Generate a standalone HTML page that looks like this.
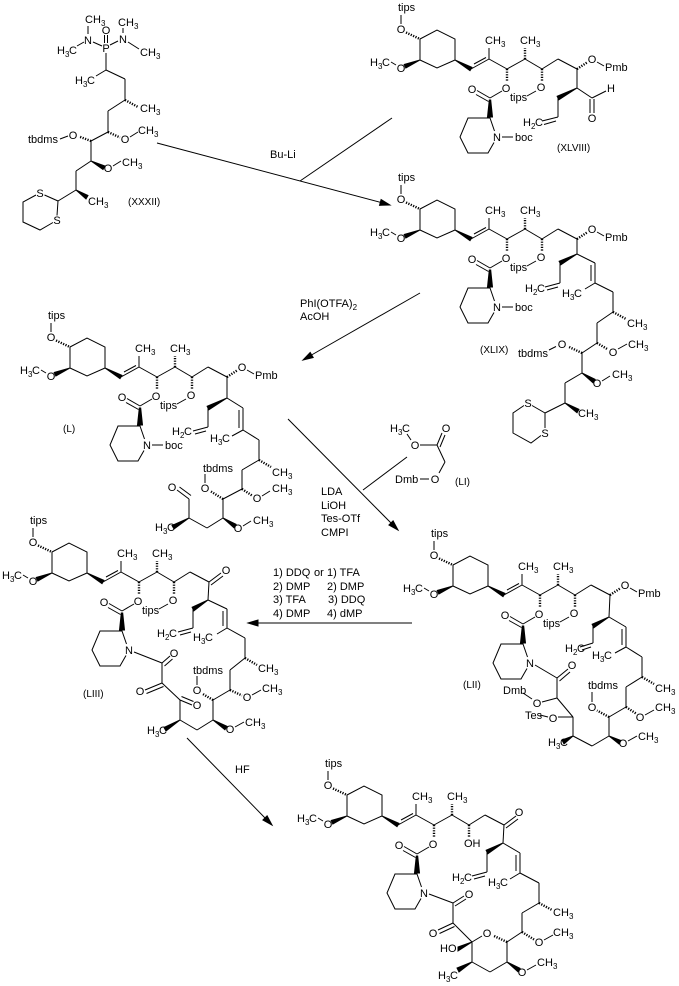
<!DOCTYPE html>
<html><head><meta charset="utf-8">
<style>
html,body{margin:0;padding:0;background:#fff;}
svg{display:block;}
svg line,svg polyline,svg polygon{stroke:#000;stroke-width:1;fill:none;}
svg .w{fill:#000;}
svg .h{stroke-dasharray:1.2 1.4;stroke-width:2.4;}
text{font-family:"Liberation Sans",sans-serif;font-size:11px;fill:#000;}
text.a{text-anchor:middle;}
text.s{font-size:8px;}
tspan.s{font-size:8px;}
text.c{font-size:10px;}
</style></head><body>
<svg width="679" height="986" viewBox="0 0 679 986" xmlns="http://www.w3.org/2000/svg">
<rect x="0" y="0" width="679" height="986" fill="#fff"/>
<defs>
<g id="hb">
<line x1="401" y1="15" x2="401" y2="24"/>
<line class="h" x1="406" y1="32.5" x2="420" y2="39"/>
<polygon points="420,39 437,30 455,39 455,60 437,68 420,60"/>
<polygon class="w" points="420,60 405.8,68.1 404.2,64.5"/>
<line x1="391" y1="62" x2="396" y2="65"/>
<polygon class="w" points="455,60 470,70.7 472,67.3"/>
<line x1="471" y1="69" x2="489" y2="59"/>
<line x1="474" y1="64" x2="486" y2="57.5"/>
<line x1="489" y1="59" x2="489" y2="48"/>
<line x1="489" y1="59" x2="507" y2="69"/>
<line class="h" x1="507" y1="69" x2="507" y2="82"/>
<line x1="507" y1="69" x2="525" y2="59"/>
<line class="h" x1="525" y1="59" x2="525" y2="48"/>
<line x1="525" y1="59" x2="542" y2="69"/>
<line class="h" x1="542" y1="69" x2="542" y2="81"/>
<line x1="542" y1="69" x2="558" y2="59"/>
<line x1="558" y1="59" x2="577" y2="69"/>
<line x1="502" y1="91" x2="490" y2="98"/>
<line x1="490" y1="98" x2="477" y2="90.5"/>
<line x1="488.5" y1="101.5" x2="476" y2="94.5"/>
<polygon class="w" points="489.3,100 490.7,100 492.5,117 487.5,117"/>
<polyline points="494.5,131 490,118 468,118 460,137 468,153 488,153 494,142.5"/>
</g>
</defs>

<!-- ============ XXXII ============ -->
<g>
<line x1="88" y1="26" x2="88" y2="34"/>
<line x1="77" y1="46" x2="84" y2="42"/>
<line x1="93" y1="42" x2="102" y2="46"/>
<line x1="104.5" y1="35" x2="104.5" y2="43"/>
<line x1="107.5" y1="35" x2="107.5" y2="43"/>
<line x1="110" y1="45" x2="118" y2="41"/>
<line x1="123" y1="28" x2="123" y2="33"/>
<line x1="128" y1="42" x2="139" y2="49"/>
<line x1="106" y1="53" x2="106" y2="70"/>
<line x1="106" y1="70" x2="96" y2="76"/>
<line x1="106" y1="70" x2="125" y2="79"/>
<line x1="125" y1="79" x2="125" y2="100"/>
<line class="h" x1="125" y1="100" x2="138" y2="107"/>
<line x1="125" y1="100" x2="108" y2="111"/>
<line x1="108" y1="111" x2="108" y2="132"/>
<line class="h" x1="108" y1="132" x2="120" y2="137.5"/>
<line x1="130" y1="137" x2="138" y2="132"/>
<line x1="108" y1="132" x2="91" y2="141"/>
<line class="h" x1="91" y1="141" x2="79" y2="136.5"/>
<line x1="60" y1="139" x2="68" y2="136"/>
<line x1="91" y1="141" x2="91" y2="161"/>
<polygon class="w" points="91,161 103,169.5 105,166"/>
<line x1="113" y1="166" x2="121" y2="161"/>
<line x1="91" y1="161" x2="76" y2="171"/>
<line x1="76" y1="171" x2="76" y2="190"/>
<polygon class="w" points="76,190 86,199 88,195.5"/>
<line x1="76" y1="190" x2="58" y2="201"/>
<polyline points="36,195 23,202 23,222 40,230 53,222.5"/>
<polyline points="57,215.5 58,201 44.5,195"/>
<text x="85" y="23">CH</text><text class="s" x="101" y="26">3</text>
<text class="a" x="88" y="44">N</text>
<text x="57" y="54">H</text><text class="s" x="65" y="57">3</text><text x="69" y="54">C</text>
<text class="a" x="106" y="52">P</text>
<text class="a" x="106" y="34">O</text>
<text class="a" x="123" y="43">N</text>
<text x="118" y="26">CH</text><text class="s" x="134" y="29">3</text>
<text x="140" y="56">CH</text><text class="s" x="156" y="59">3</text>
<text x="75" y="84">H</text><text class="s" x="83" y="87">3</text><text x="87" y="84">C</text>
<text x="140" y="112">CH</text><text class="s" x="156" y="115">3</text>
<text class="a" x="125" y="143">O</text>
<text x="138" y="134">CH</text><text class="s" x="154" y="137">3</text>
<text class="a" x="73" y="139">O</text>
<text x="28" y="143">tbdms</text>
<text class="a" x="108" y="172">O</text>
<text x="122" y="166">CH</text><text class="s" x="138" y="169">3</text>
<text x="88" y="205">CH</text><text class="s" x="104" y="208">3</text>
<text class="a" x="40" y="197">S</text>
<text class="a" x="57" y="224">S</text>
<text class="c" x="128" y="205">(XXXII)</text>
</g>

<!-- ============ Arrows & reagents ============ -->
<g>
<line x1="157" y1="143" x2="383" y2="203"/>
<polygon class="w" points="390,205 379.5,205.3 381.1,199.5"/>
<line x1="300" y1="181" x2="392" y2="118"/>
<text x="270" y="158">Bu-Li</text>

<line x1="420" y1="293" x2="308" y2="357"/>
<polygon class="w" points="303,360 313.2,357.6 310.2,352.4"/>
<text x="300" y="307">PhI(OTFA)<tspan class="s" dy="3">2</tspan></text>
<text x="300" y="320">AcOH</text>

<line x1="288" y1="419" x2="393" y2="525"/>
<polygon class="w" points="398,530 388.9,525 393.1,520.8"/>
<line x1="363" y1="490" x2="407" y2="457"/>
<text x="321" y="495">LDA</text>
<text x="321" y="509">LiOH</text>
<text x="321" y="522">Tes-OTf</text>
<text x="321" y="536">CMPI</text>

<line x1="412" y1="623" x2="255" y2="623"/>
<polygon class="w" points="248,623 258,620 258,626"/>
<text x="273" y="576">1) DDQ</text><text x="314" y="576">or</text><text x="327" y="576">1) TFA</text>
<text x="273" y="590">2) DMP</text><text x="327" y="590">2) DMP</text>
<text x="273" y="603">3) TFA</text><text x="328" y="603">3) DDQ</text>
<text x="273" y="617">4) DMP</text><text x="327" y="617">4) dMP</text>

<line x1="187" y1="738" x2="267" y2="820"/>
<polygon class="w" points="272,825 262.9,820 267.1,815.8"/>
<text x="235" y="773">HF</text>
</g>

<!-- ============ LI ============ -->
<g>
<line x1="407" y1="434" x2="411" y2="440"/>
<line x1="420" y1="445" x2="437" y2="445"/>
<line x1="437" y1="445" x2="442" y2="433"/>
<line x1="440" y1="447" x2="445" y2="435"/>
<line x1="437" y1="445" x2="445" y2="462"/>
<line x1="445" y1="462" x2="439" y2="473"/>
<line x1="420" y1="479" x2="429" y2="479"/>
<text x="390" y="432">H</text><text class="s" x="398" y="435">3</text><text x="402" y="432">C</text>
<text class="a" x="415" y="449">O</text>
<text class="a" x="446" y="432">O</text>
<text class="a" x="435" y="483">O</text>
<text x="395" y="483">Dmb</text>
<text class="c" x="455" y="485">(LI)</text>
</g>

<!-- ============ XLVIII ============ -->
<g>
<use href="#hb"/>
<text x="398" y="11">tips</text>
<text class="a" x="401" y="33">O</text>
<text class="a" x="401" y="72">O</text>
<text x="370" y="66">H</text><text class="s" x="378" y="69">3</text><text x="382" y="66">C</text>
<text x="485" y="44">CH</text><text class="s" x="501" y="47">3</text>
<text x="520" y="44">CH</text><text class="s" x="536" y="47">3</text>
<text class="a" x="506" y="92">O</text>
<text class="a" x="541" y="91">O</text>
<text class="a" x="472" y="93">O</text>
<text class="a" x="497" y="141">N</text>
<line x1="527" y1="96" x2="536" y2="91"/><text x="510" y="101">tips</text>
<line x1="502" y1="137" x2="513" y2="137"/><text x="515" y="141">boc</text>
<line class="h" x1="577" y1="69" x2="587" y2="62.5"/><line x1="597" y1="62" x2="604" y2="66"/>
<text class="a" x="592" y="63">O</text><text x="605" y="71">Pmb</text>
<line x1="577" y1="69" x2="577" y2="88"/>
<polygon class="w" points="577,88 558.9,99.8 557.1,96.2"/>
<line x1="558" y1="98" x2="558" y2="117"/>
<line x1="558" y1="117" x2="542" y2="121"/>
<line x1="556" y1="121" x2="544" y2="124.5"/>
<text x="523" y="126">H</text><text class="s" x="531" y="129">2</text><text x="535" y="126">C</text>
<line x1="577" y1="88" x2="592" y2="98"/>
<line x1="592" y1="98" x2="606" y2="91"/>
<line x1="590" y1="99" x2="590" y2="113"/>
<line x1="594" y1="99" x2="594" y2="113"/>
<text class="a" x="611" y="92">H</text>
<text class="a" x="592" y="122">O</text>
<text class="c" x="557" y="151">(XLVIII)</text>
</g>

<!-- ============ XLIX ============ -->
<g transform="translate(0,170)">
<use href="#hb"/>
<text x="398" y="11">tips</text>
<text class="a" x="401" y="33">O</text>
<text class="a" x="401" y="72">O</text>
<text x="370" y="66">H</text><text class="s" x="378" y="69">3</text><text x="382" y="66">C</text>
<text x="485" y="44">CH</text><text class="s" x="501" y="47">3</text>
<text x="520" y="44">CH</text><text class="s" x="536" y="47">3</text>
<text class="a" x="506" y="92">O</text>
<text class="a" x="541" y="91">O</text>
<text class="a" x="472" y="93">O</text>
<text class="a" x="497" y="141">N</text>
<line x1="527" y1="96" x2="536" y2="91"/><text x="510" y="101">tips</text>
<line x1="502" y1="137" x2="513" y2="137"/><text x="515" y="141">boc</text>
<line class="h" x1="577" y1="69" x2="587" y2="62.5"/><line x1="597" y1="62" x2="604" y2="66"/>
<text class="a" x="592" y="63">O</text><text x="605" y="71">Pmb</text>
</g>
<g>
<line x1="577" y1="239" x2="577" y2="254"/>
<polygon class="w" points="577,254 560.9,264.8 559.1,261.2"/>
<line x1="560" y1="263" x2="560" y2="283"/>
<line x1="560" y1="283" x2="545" y2="287"/>
<line x1="558" y1="287" x2="547" y2="290"/>
<text x="525" y="292">H</text><text class="s" x="533" y="295">2</text><text x="537" y="292">C</text>
<line x1="577" y1="254" x2="595" y2="263"/>
<line x1="595" y1="263" x2="595" y2="283"/>
<line x1="591" y1="265" x2="591" y2="281"/>
<line x1="595" y1="283" x2="585" y2="289"/>
<text x="562" y="297">H</text><text class="s" x="570" y="300">3</text><text x="574" y="297">C</text>
<line x1="595" y1="283" x2="613" y2="292"/>
<line x1="613" y1="292" x2="613" y2="312"/>
<line class="h" x1="613" y1="312" x2="626" y2="319"/>
<text x="627" y="327">CH</text><text class="s" x="643" y="330">3</text>
<line x1="613" y1="312" x2="597" y2="323"/>
<line x1="597" y1="323" x2="597" y2="343"/>
<line class="h" x1="597" y1="343" x2="608" y2="349.5"/>
<text class="a" x="613" y="356">O</text>
<line x1="618" y1="349" x2="627" y2="344"/>
<text x="628" y="348">CH</text><text class="s" x="644" y="351">3</text>
<line x1="597" y1="343" x2="582" y2="353"/>
<line class="h" x1="582" y1="353" x2="568" y2="346.5"/>
<text class="a" x="562" y="348">O</text>
<line x1="549" y1="350" x2="556" y2="346.5"/>
<text x="518" y="357">tbdms</text>
<line x1="582" y1="353" x2="582" y2="373"/>
<polygon class="w" points="582,373 592.9,382.7 595.1,379.3"/>
<text class="a" x="597" y="387">O</text>
<line x1="602" y1="381" x2="610" y2="376"/>
<text x="612" y="378">CH</text><text class="s" x="628" y="381">3</text>
<line x1="582" y1="373" x2="565" y2="383"/>
<line x1="565" y1="383" x2="565" y2="403"/>
<polygon class="w" points="565,403 577,412.7 579,409.3"/>
<text x="578" y="417">CH</text><text class="s" x="594" y="420">3</text>
<line x1="565" y1="403" x2="545" y2="413"/>
<polyline points="524,405.5 513,413 513,433 531,443 541,435.5"/>
<polyline points="545,428 545,413 532,405.5"/>
<text class="a" x="528" y="407">S</text>
<text class="a" x="545" y="437">S</text>
<text class="c" x="480" y="353">(XLIX)</text>
</g>

<!-- ============ L ============ -->
<g transform="translate(-350,308)">
<use href="#hb"/>
<text x="398" y="11">tips</text>
<text class="a" x="401" y="33">O</text>
<text class="a" x="401" y="72">O</text>
<text x="370" y="66">H</text><text class="s" x="378" y="69">3</text><text x="382" y="66">C</text>
<text x="485" y="44">CH</text><text class="s" x="501" y="47">3</text>
<text x="520" y="44">CH</text><text class="s" x="536" y="47">3</text>
<text class="a" x="506" y="92">O</text>
<text class="a" x="541" y="91">O</text>
<text class="a" x="472" y="93">O</text>
<text class="a" x="497" y="141">N</text>
<line x1="527" y1="96" x2="536" y2="91"/><text x="510" y="101">tips</text>
<line x1="502" y1="137" x2="513" y2="137"/><text x="515" y="141">boc</text>
<line class="h" x1="577" y1="69" x2="587" y2="62.5"/><line x1="597" y1="62" x2="604" y2="66"/>
<text class="a" x="592" y="63">O</text><text x="605" y="71">Pmb</text>
</g>
<g>
<line x1="227" y1="377" x2="227" y2="398"/>
<polygon class="w" points="227,398 208.9,409.8 207.1,406.2"/>
<line x1="208" y1="408" x2="208" y2="427"/>
<line x1="208" y1="427" x2="193" y2="431"/>
<line x1="206" y1="431" x2="195" y2="434"/>
<text x="172" y="435">H</text><text class="s" x="180" y="438">2</text><text x="184" y="435">C</text>
<line x1="227" y1="398" x2="243" y2="408"/>
<line x1="243" y1="408" x2="243" y2="430"/>
<line x1="239" y1="410" x2="239" y2="428"/>
<line x1="243" y1="430" x2="232" y2="436"/>
<text x="210" y="442">H</text><text class="s" x="218" y="445">3</text><text x="222" y="442">C</text>
<line x1="243" y1="430" x2="259" y2="440"/>
<line x1="259" y1="440" x2="259" y2="460"/>
<line class="h" x1="259" y1="460" x2="271" y2="467"/>
<text x="272" y="476">CH</text><text class="s" x="288" y="479">3</text>
<line x1="259" y1="460" x2="242" y2="470"/>
<line x1="242" y1="470" x2="242" y2="489"/>
<line class="h" x1="242" y1="489" x2="252" y2="495.5"/>
<text class="a" x="257" y="502">O</text>
<line x1="262" y1="496" x2="270" y2="491"/>
<text x="272" y="492">CH</text><text class="s" x="288" y="495">3</text>
<line x1="242" y1="489" x2="223" y2="499"/>
<line class="h" x1="223" y1="499" x2="211" y2="491.5"/>
<text class="a" x="205" y="492">O</text>
<line x1="205" y1="474" x2="205" y2="483"/>
<text x="203" y="472">tbdms</text>
<line x1="223" y1="499" x2="223" y2="518"/>
<polygon class="w" points="223,518 233.9,527.7 236.1,524.3"/>
<text class="a" x="238" y="532">O</text>
<line x1="243" y1="526" x2="251" y2="521"/>
<text x="253" y="524">CH</text><text class="s" x="269" y="527">3</text>
<line x1="223" y1="518" x2="207" y2="528"/>
<line x1="207" y1="528" x2="189" y2="518"/>
<polygon class="w" points="189,518 174,529 172,525.5"/>
<text x="155" y="531">H</text><text class="s" x="163" y="534">3</text><text x="167" y="531">C</text>
<line x1="189" y1="518" x2="189" y2="499"/>
<line x1="189" y1="499" x2="177" y2="490"/>
<line x1="191" y1="495.5" x2="179.5" y2="487"/>
<text class="a" x="172" y="491">O</text>
<text class="c" x="63" y="432">(L)</text>
</g>

<!-- ============ LII ============ -->
<g transform="translate(33,526)">
<use href="#hb"/>
<text x="398" y="11">tips</text>
<text class="a" x="401" y="33">O</text>
<text class="a" x="401" y="72">O</text>
<text x="370" y="66">H</text><text class="s" x="378" y="69">3</text><text x="382" y="66">C</text>
<text x="485" y="44">CH</text><text class="s" x="501" y="47">3</text>
<text x="520" y="44">CH</text><text class="s" x="536" y="47">3</text>
<text class="a" x="506" y="92">O</text>
<text class="a" x="541" y="91">O</text>
<text class="a" x="472" y="93">O</text>
<text class="a" x="497" y="141">N</text>
<line x1="527" y1="96" x2="536" y2="91"/><text x="510" y="101">tips</text>
<line class="h" x1="577" y1="69" x2="587" y2="62.5"/><line x1="597" y1="62" x2="604" y2="66"/>
<text class="a" x="592" y="63">O</text><text x="605" y="71">Pmb</text>
</g>
<g>
<line x1="610" y1="595" x2="609" y2="617"/>
<polygon class="w" points="609,617 593.9,627.8 592.1,624.2"/>
<line x1="593" y1="626" x2="593" y2="643"/>
<line x1="593" y1="643" x2="580" y2="647"/>
<line x1="591" y1="647" x2="582" y2="650"/>
<text x="565" y="652">H</text><text class="s" x="573" y="655">2</text><text x="577" y="652">C</text>
<line x1="609" y1="617" x2="626" y2="627"/>
<line x1="626" y1="627" x2="626" y2="647"/>
<line x1="622" y1="629" x2="622" y2="645"/>
<line x1="626" y1="647" x2="615" y2="653"/>
<text x="592" y="659">H</text><text class="s" x="600" y="662">3</text><text x="604" y="659">C</text>
<line x1="626" y1="647" x2="642" y2="657"/>
<line x1="642" y1="657" x2="642" y2="677"/>
<line class="h" x1="642" y1="677" x2="654" y2="684"/>
<text x="655" y="692">CH</text><text class="s" x="671" y="695">3</text>
<line x1="642" y1="677" x2="626" y2="687"/>
<line x1="626" y1="687" x2="626" y2="707"/>
<line class="h" x1="626" y1="707" x2="636" y2="713.5"/>
<text class="a" x="640" y="721">O</text>
<line x1="645" y1="715" x2="654" y2="710"/>
<text x="655" y="711">CH</text><text class="s" x="671" y="714">3</text>
<line x1="626" y1="707" x2="609" y2="717"/>
<line class="h" x1="609" y1="717" x2="597" y2="710.5"/>
<text class="a" x="592" y="711">O</text>
<line x1="592" y1="692" x2="592" y2="702"/>
<text x="588" y="689">tbdms</text>
<line x1="609" y1="717" x2="609" y2="736"/>
<polygon class="w" points="609,736 619,744 621,740.5"/>
<text class="a" x="623" y="747">O</text>
<line x1="628" y1="741" x2="637" y2="736"/>
<text x="638" y="740">CH</text><text class="s" x="654" y="743">3</text>
<line x1="609" y1="736" x2="592" y2="746"/>
<line x1="592" y1="746" x2="573" y2="736"/>
<polygon class="w" points="573,736 564,744 562,740"/>
<text x="548" y="746">H</text><text class="s" x="556" y="749">3</text><text x="560" y="746">C</text>
<line x1="573" y1="736" x2="573" y2="717"/>
<line x1="558" y1="717" x2="573" y2="717"/>
<text class="a" x="553" y="722">O</text>
<line x1="540" y1="715" x2="548" y2="717"/>
<text x="525" y="719">Tes</text>
<line x1="573" y1="717" x2="557" y2="698"/>
<line x1="557" y1="698" x2="542" y2="702"/>
<text class="a" x="537" y="707">O</text>
<line x1="523" y1="693" x2="532" y2="699"/>
<text x="503" y="694">Dmb</text>
<line x1="557" y1="698" x2="557" y2="678"/>
<line x1="557" y1="678" x2="568" y2="669"/>
<line x1="559.5" y1="681" x2="570" y2="672"/>
<text class="a" x="572" y="669">O</text>
<line x1="557" y1="678" x2="535" y2="665"/>
<text class="c" x="463" y="688">(LII)</text>
</g>

<!-- ============ LIII ============ -->
<g transform="translate(-368,513)">
<use href="#hb"/>
<text x="398" y="11">tips</text>
<text class="a" x="401" y="33">O</text>
<text class="a" x="401" y="72">O</text>
<text x="370" y="66">H</text><text class="s" x="378" y="69">3</text><text x="382" y="66">C</text>
<text x="485" y="44">CH</text><text class="s" x="501" y="47">3</text>
<text x="520" y="44">CH</text><text class="s" x="536" y="47">3</text>
<text class="a" x="506" y="92">O</text>
<text class="a" x="541" y="91">O</text>
<text class="a" x="472" y="93">O</text>
<text class="a" x="497" y="141">N</text>
<line x1="527" y1="96" x2="536" y2="91"/><text x="510" y="101">tips</text>
<line x1="577" y1="69" x2="589" y2="60"/>
<line x1="579" y1="72" x2="591" y2="63"/>
<text class="a" x="594" y="61">O</text>
</g>
<g>
<line x1="209" y1="582" x2="208" y2="600"/>
<polygon class="w" points="208,600 193.9,610.8 192.1,607.2"/>
<line x1="193" y1="609" x2="193" y2="628"/>
<line x1="193" y1="628" x2="178" y2="632"/>
<line x1="191" y1="632" x2="180" y2="635"/>
<text x="157" y="637">H</text><text class="s" x="165" y="640">2</text><text x="169" y="637">C</text>
<line x1="208" y1="600" x2="227" y2="609"/>
<line x1="227" y1="609" x2="227" y2="628"/>
<line x1="223" y1="611" x2="223" y2="626"/>
<line x1="227" y1="628" x2="217" y2="634"/>
<text x="193" y="641">H</text><text class="s" x="201" y="644">3</text><text x="205" y="641">C</text>
<line x1="227" y1="628" x2="245" y2="638"/>
<line x1="245" y1="638" x2="245" y2="658"/>
<line class="h" x1="245" y1="658" x2="257" y2="665"/>
<text x="258" y="672">CH</text><text class="s" x="274" y="675">3</text>
<line x1="245" y1="658" x2="230" y2="670"/>
<line x1="230" y1="670" x2="230" y2="690"/>
<line class="h" x1="230" y1="690" x2="242" y2="695.5"/>
<text class="a" x="247" y="701">O</text>
<line x1="252" y1="695" x2="261" y2="690"/>
<text x="262" y="692">CH</text><text class="s" x="278" y="695">3</text>
<line x1="230" y1="690" x2="213" y2="700"/>
<line class="h" x1="213" y1="700" x2="202" y2="693.5"/>
<text class="a" x="197" y="694">O</text>
<line x1="197" y1="676" x2="197" y2="685"/>
<text x="193" y="674">tbdms</text>
<line x1="213" y1="700" x2="213" y2="720"/>
<polygon class="w" points="213,720 224.9,729.7 227.1,726.3"/>
<text class="a" x="230" y="733">O</text>
<line x1="235" y1="727" x2="244" y2="722"/>
<text x="245" y="726">CH</text><text class="s" x="261" y="729">3</text>
<line x1="213" y1="720" x2="197" y2="730"/>
<line x1="197" y1="730" x2="180" y2="720"/>
<polygon class="w" points="180,720 166,731 164,727.5"/>
<text x="147" y="734">H</text><text class="s" x="155" y="737">3</text><text x="159" y="734">C</text>
<line x1="180" y1="720" x2="180" y2="700"/>
<line x1="180" y1="700" x2="192" y2="705"/>
<line x1="181.5" y1="696.5" x2="193.5" y2="701.5"/>
<text class="a" x="197" y="709">O</text>
<line x1="180" y1="700" x2="162" y2="683"/>
<line x1="162" y1="683" x2="145" y2="690"/>
<line x1="163.5" y1="686.5" x2="146.5" y2="693.5"/>
<text class="a" x="140" y="695">O</text>
<line x1="162" y1="683" x2="162" y2="663"/>
<line x1="162" y1="663" x2="170" y2="656"/>
<line x1="164.5" y1="666" x2="172.5" y2="659"/>
<text class="a" x="174" y="657">O</text>
<line x1="162" y1="663" x2="134" y2="652"/>
<text class="c" x="83" y="697">(LIII)</text>
</g>

<!-- ============ Final product ============ -->
<g transform="translate(-73,756)">
<use href="#hb"/>
<text x="398" y="11">tips</text>
<text class="a" x="401" y="33">O</text>
<text class="a" x="401" y="72">O</text>
<text x="370" y="66">H</text><text class="s" x="378" y="69">3</text><text x="382" y="66">C</text>
<text x="485" y="44">CH</text><text class="s" x="501" y="47">3</text>
<text x="520" y="44">CH</text><text class="s" x="536" y="47">3</text>
<text class="a" x="506" y="92">O</text>
<text x="537" y="91">OH</text>
<text class="a" x="472" y="93">O</text>
<text class="a" x="497" y="141">N</text>
<line x1="577" y1="69" x2="589" y2="60"/>
<line x1="579" y1="72" x2="591" y2="63"/>
<text class="a" x="592" y="60">O</text>
</g>
<g>
<line x1="504" y1="825" x2="503" y2="843"/>
<polygon class="w" points="503,843 487.9,853.8 486.1,850.2"/>
<line x1="487" y1="852" x2="487" y2="872"/>
<line x1="487" y1="872" x2="472" y2="876"/>
<line x1="485" y1="876" x2="474" y2="879"/>
<text x="452" y="881">H</text><text class="s" x="460" y="884">2</text><text x="464" y="881">C</text>
<line x1="503" y1="843" x2="520" y2="853"/>
<line x1="520" y1="853" x2="520" y2="873"/>
<line x1="516" y1="855" x2="516" y2="871"/>
<line x1="520" y1="873" x2="510" y2="879"/>
<text x="488" y="886">H</text><text class="s" x="496" y="889">3</text><text x="500" y="886">C</text>
<line x1="520" y1="873" x2="539" y2="883"/>
<line x1="539" y1="883" x2="539" y2="903"/>
<line class="h" x1="539" y1="903" x2="552" y2="910"/>
<text x="553" y="916">CH</text><text class="s" x="569" y="919">3</text>
<line x1="539" y1="903" x2="522" y2="913"/>
<line x1="522" y1="913" x2="522" y2="932"/>
<line class="h" x1="522" y1="932" x2="534" y2="939.5"/>
<text class="a" x="539" y="946">O</text>
<line x1="544" y1="940" x2="553" y2="935"/>
<text x="553" y="936">CH</text><text class="s" x="569" y="939">3</text>
<line x1="522" y1="932" x2="507" y2="942"/>
<line class="h" x1="507" y1="942" x2="493" y2="935.5"/>
<text class="a" x="487" y="937">O</text>
<line x1="482" y1="936" x2="472" y2="942"/>
<line x1="507" y1="942" x2="507" y2="962"/>
<line x1="507" y1="962" x2="490" y2="972"/>
<line x1="490" y1="972" x2="472" y2="962"/>
<line x1="472" y1="962" x2="472" y2="942"/>
<polygon class="w" points="507,962 517.9,971.7 520.1,968.3"/>
<text class="a" x="522" y="976">O</text>
<line x1="527" y1="970" x2="536" y2="965"/>
<text x="537" y="966">CH</text><text class="s" x="553" y="969">3</text>
<polygon class="w" points="472,962 459,972 457,968"/>
<text x="438" y="979">H</text><text class="s" x="446" y="982">3</text><text x="450" y="979">C</text>
<polygon class="w" points="472,942 458,947 458,951"/>
<text x="440" y="952">HO</text>
<line x1="472" y1="942" x2="453" y2="923"/>
<line x1="453" y1="923" x2="438" y2="930"/>
<line x1="454.5" y1="926.5" x2="439.5" y2="933.5"/>
<text class="a" x="433" y="937">O</text>
<line x1="453" y1="923" x2="453" y2="903"/>
<line x1="453" y1="903" x2="464" y2="896"/>
<line x1="455" y1="906" x2="466" y2="899"/>
<text class="a" x="469" y="898">O</text>
<line x1="453" y1="903" x2="429" y2="894"/>
</g>
</svg>
</body></html>
